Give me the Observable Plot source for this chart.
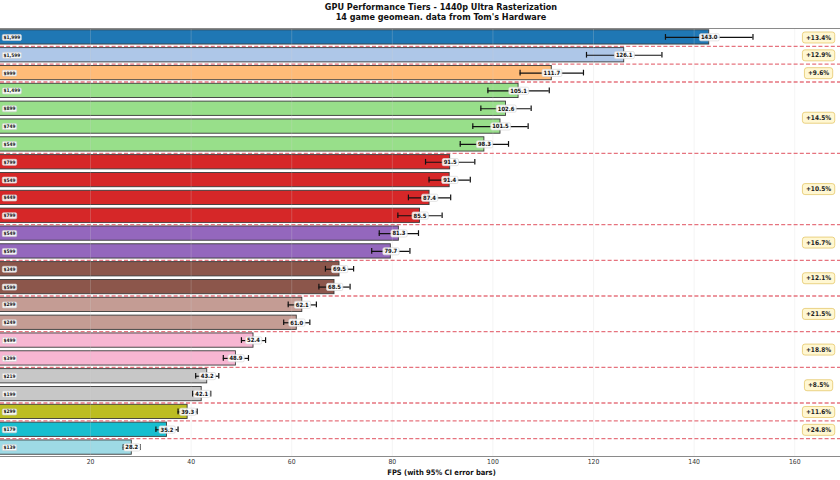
<!DOCTYPE html>
<html>
<head>
<meta charset="utf-8">
<script src="https://cdn.jsdelivr.net/npm/d3@7"></script>
<script src="https://cdn.jsdelivr.net/npm/@observablehq/plot@0.6"></script>
<style>
  body { margin: 0; background: #fff; font-family: "DejaVu Sans Condensed", "DejaVu Sans", sans-serif; font-stretch: condensed; }
  #title { height: 27px; box-sizing: border-box; padding-top: 2px; padding-left: 42px; text-align: center;
           font-weight: bold; font-size: 9px; line-height: 10px; color: #111; }
  #chart svg { display: block; }
</style>
</head>
<body>
<div id="title">
  <div>GPU Performance Tiers - 1440p Ultra Rasterization</div>
  <div>14 game geomean. data from Tom's Hardware</div>
</div>
<div id="chart"></div>
<script>
// Launch prices, shown on each bar
const prices = ["$1,999", "$1,599", "$999", "$1,499", "$899", "$749", "$549",
  "$799", "$549", "$449", "$799", "$549", "$599", "$349", "$599",
  "$299", "$249", "$499", "$399", "$219", "$199", "$299", "$179", "$139"];
// Geomean FPS across 14 games
const fps = [143.0, 126.1, 111.7, 105.1, 102.6, 101.5, 98.3,
  91.5, 91.4, 87.4, 85.5, 81.3, 79.7, 69.5, 68.5,
  62.1, 61.0, 52.4, 48.9, 43.2, 42.1, 39.3, 35.2, 28.2];
// Half-width of the 95% confidence interval
const ci = [8.7, 7.5, 6.3, 6.1, 5.0, 5.5, 4.8,
  4.9, 4.1, 4.2, 4.4, 3.9, 3.8, 2.8, 3.1,
  2.8, 2.6, 2.4, 2.5, 2.3, 1.8, 1.9, 2.2, 1.7];
// Performance tier of each card
const tiers = [0, 1, 2, 3, 3, 3, 3, 4, 4, 4, 4, 5, 5, 6, 6, 7, 7, 8, 8, 9, 9, 10, 11, 12];
const tierColors = ["#1f77b4", "#aec7e8", "#ffbb78", "#98df8a", "#d62728", "#9467bd",
  "#8c564b", "#c49c94", "#f7b6d2", "#c7c7c7", "#bcbd22", "#17becf", "#9edae5"];
const xTicks = [20, 40, 60, 80, 100, 120, 140, 160];
const xLabel = "FPS (with 95% CI error bars)";

const rows = fps.map((v, i) => ({i, price: prices[i], fps: v, lo: v - ci[i], hi: v + ci[i], tier: tiers[i]}));

// Per-tier summary: mean FPS, vertical centre and last row
const tierIds = Array.from(new Set(tiers));
const tierInfo = tierIds.map(t => {
  const members = rows.filter(d => d.tier === t);
  return {
    tier: t,
    mean: d3.mean(members, d => d.fps),
    center: (members[0].i + members[members.length - 1].i) / 2,
    last: members[members.length - 1].i
  };
});
// Uplift of each tier over the next one down
const gains = tierInfo.slice(0, -1).map((t, k) => ({
  center: t.center,
  text: "+" + ((t.mean / tierInfo[k + 1].mean - 1) * 100).toFixed(1) + "%"
}));
const separators = tierInfo.slice(0, -1).map(t => t.last + 0.5);

const plot = Plot.plot({
  width: 840,
  height: 453,
  marginTop: 1,
  marginBottom: 24,
  marginLeft: 0,
  marginRight: 0,
  style: {fontFamily: '"DejaVu Sans Condensed", "DejaVu Sans", sans-serif', fontSize: "7px", color: "#222"},
  x: {domain: [2.1, 169.1]},
  y: {domain: [-0.5, 23.5], reverse: true, axis: null},
  marks: [
    Plot.rect(rows, {
      x1: 0, x2: "fps", y1: d => d.i - 0.4, y2: d => d.i + 0.4,
      fill: d => tierColors[d.tier], stroke: "#3a3a3a", strokeWidth: 0.9, clip: true
    }),
    Plot.gridX(xTicks, {stroke: "#cfcfcf", strokeOpacity: 0.3, strokeWidth: 0.8}),
    Plot.ruleY(separators, {stroke: "#e0505e", strokeDasharray: "4,2.2", strokeWidth: 1.3, strokeOpacity: 0.8}),
    Plot.ruleY([-0.5, 23.5], {stroke: "#8a8a8a", strokeWidth: 1}),
    // confidence intervals
    Plot.ruleY(rows, {x1: "lo", x2: "hi", y: "i", stroke: "#111", strokeWidth: 1.2}),
    Plot.ruleX(rows, {x: "lo", y1: d => d.i - 0.16, y2: d => d.i + 0.16, stroke: "#111", strokeWidth: 1.2}),
    Plot.ruleX(rows, {x: "hi", y1: d => d.i - 0.16, y2: d => d.i + 0.16, stroke: "#111", strokeWidth: 1.2}),
    // labels
    Plot.text(rows, {
      x: "fps", y: "i", text: d => d.fps.toFixed(1),
      fontWeight: "bold", fontSize: 5.8, fill: "#111", ariaDescription: "value-label"
    }),
    Plot.text(rows, {
      frameAnchor: "left", y: "i", text: "price", textAnchor: "start", dx: 3,
      fontWeight: "bold", fontSize: 4.8, fill: "#111", ariaDescription: "price-label"
    }),
    Plot.text(gains, {
      frameAnchor: "right", y: "center", text: "text", textAnchor: "middle", dx: -22,
      fontWeight: "bold", fontSize: 6.5, fill: "#222", ariaDescription: "gain-label"
    }),
    Plot.axisX({ticks: xTicks, tickSize: 0, tickPadding: 3, label: null, fontSize: 6.8, color: "#333"}),
    Plot.text([xLabel], {frameAnchor: "bottom", dy: 18, dx: 21, fontWeight: "bold", fontSize: 7.5, fill: "#111"})
  ]
});
document.getElementById("chart").appendChild(plot);

// Rounded boxes behind annotation texts
function boxes(desc, fill, stroke, padX, padY, rx, opacity) {
  plot.querySelectorAll(`g[aria-description="${desc}"] text`).forEach(t => {
    const b = t.getBBox();
    const r = document.createElementNS("http://www.w3.org/2000/svg", "rect");
    r.setAttribute("x", b.x - padX);
    r.setAttribute("y", b.y - padY);
    r.setAttribute("width", b.width + 2 * padX);
    r.setAttribute("height", b.height + 2 * padY);
    r.setAttribute("rx", rx);
    r.setAttribute("fill", fill);
    r.setAttribute("fill-opacity", opacity);
    r.setAttribute("stroke", stroke);
    r.setAttribute("stroke-width", 0.7);
    if (t.getAttribute("transform")) r.setAttribute("transform", t.getAttribute("transform"));
    t.parentNode.insertBefore(r, t);
  });
}
boxes("value-label", "#ffffff", "#d8d8d8", 1.5, 0.6, 1.5, 0.9);
boxes("price-label", "#ffffff", "#cfcfcf", 1.2, 0.5, 1.2, 0.9);
boxes("gain-label", "#fff7d2", "#e2c25a", 3.5, 1.5, 2.5, 1);
</script>
</body>
</html>
